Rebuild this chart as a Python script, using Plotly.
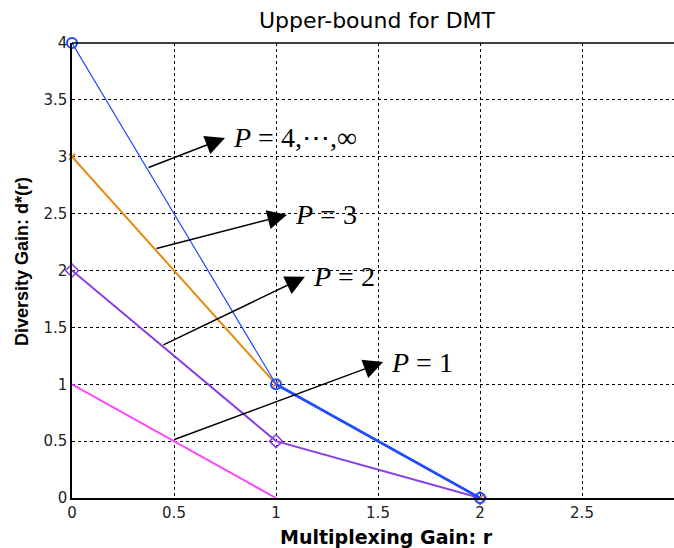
import plotly.graph_objects as go

# ---- data ----
r_vals = [0, 1, 2]
d_p4 = [4, 1, 0]          # P = 4, ..., inf
d_p3 = [3, 1, 0]          # P = 3
d_p2 = [2, 0.5, 0]        # P = 2
r_p1 = [0, 1]
d_p1 = [1, 0]             # P = 1
tail_r = [1, 2]
tail_d = [1, 0]

x_ticks = [0, 0.5, 1, 1.5, 2, 2.5]
y_ticks = [0, 0.5, 1, 1.5, 2, 2.5, 3, 3.5, 4]

# annotation arrows: (tail_x, tail_y, tip_x, tip_y, label)
arrows = [
    (0.368, 2.90, 0.75, 3.165, "<i>P</i> = 4,⋯,∞"),
    (0.407, 2.19, 1.054, 2.49, "<i>P</i> = 3"),
    (0.441, 1.34, 1.142, 1.945, "<i>P</i> = 2"),
    (0.495, 0.51, 1.525, 1.195, "<i>P</i> = 1"),
]

BLUE = "#1f4cff"
ORANGE = "#e58a12"
PURPLE = "#8a3fe2"
MAGENTA = "#ff45ff"

fig = go.Figure()
fig.add_trace(go.Scatter(x=r_p1, y=d_p1, mode="lines",
                         line=dict(color=MAGENTA, width=2), cliponaxis=False))
fig.add_trace(go.Scatter(x=r_vals, y=d_p2, mode="lines+markers",
                         line=dict(color=PURPLE, width=2),
                         marker=dict(symbol="diamond-open", size=10, color=PURPLE,
                                     line=dict(width=1.5, color=PURPLE)),
                         cliponaxis=False))
fig.add_trace(go.Scatter(x=r_vals, y=d_p3, mode="lines+markers",
                         line=dict(color=ORANGE, width=2),
                         marker=dict(symbol="x-thin-open", size=6, color=ORANGE,
                                     line=dict(width=2, color=ORANGE)),
                         cliponaxis=False))
fig.add_trace(go.Scatter(x=r_vals, y=d_p4, mode="lines+markers",
                         line=dict(color=BLUE, width=1.2),
                         marker=dict(symbol="circle-open", size=10, color=BLUE,
                                     line=dict(width=2, color=BLUE)),
                         cliponaxis=False))
fig.add_trace(go.Scatter(x=tail_r, y=tail_d, mode="lines",
                         line=dict(color=BLUE, width=2.6), cliponaxis=False))

annotations = []
for tx, ty, hx, hy, lab in arrows:
    annotations.append(dict(x=hx, y=hy, ax=tx, ay=ty, xref="x", yref="y",
                            axref="x", ayref="y", text="", showarrow=True,
                            arrowhead=2, arrowsize=2.6, arrowwidth=1.5,
                            arrowcolor="black", standoff=0, startstandoff=0,
                            font=dict(size=1)))
    annotations.append(dict(x=hx, y=hy, xref="x", yref="y", text=lab,
                            showarrow=False, xanchor="left", yanchor="middle",
                            xshift=6,
                            font=dict(family="Liberation Serif", size=28, color="black")))

# chart title and axis titles
annotations.append(dict(x=(377 - 72) / 602, y=1, xref="paper", yref="paper",
                        yshift=23, yanchor="middle", xanchor="center",
                        text="Upper-bound for DMT", showarrow=False,
                        font=dict(family="DejaVu Sans", size=22, color="black")))
annotations.append(dict(x=(386 - 72) / 602, y=0, xref="paper", yref="paper",
                        yshift=-39, yanchor="middle", xanchor="center",
                        text="<b>Multiplexing Gain: r</b>", showarrow=False,
                        font=dict(family="DejaVu Sans", size=19, color="black")))
annotations.append(dict(x=(22 - 72) / 602, y=(498 - 262) / 455, xref="paper", yref="paper",
                        yanchor="middle", xanchor="center", textangle=-90,
                        text="<b>Diversity Gain: d*(r)</b>", showarrow=False,
                        font=dict(family="Liberation Sans", size=18, color="black")))

fig.update_layout(
    width=674, height=548,
    margin=dict(l=72, r=0, t=43, b=50),
    plot_bgcolor="white", paper_bgcolor="white",
    showlegend=False,
    font=dict(family="DejaVu Sans", size=15, color="#222"),
    xaxis=dict(range=[0, 2.951], tickvals=x_ticks, ticktext=[f"{v:g}" for v in x_ticks],
               showgrid=True, gridcolor="black", gridwidth=1, griddash="3px,3px",
               zeroline=False, showline=True, linecolor="black", linewidth=1.5,
               ticks=""),
    yaxis=dict(range=[0, 4], tickvals=y_ticks, ticktext=[f"{v:g}" for v in y_ticks],
               showgrid=True, gridcolor="black", gridwidth=1, griddash="3px,3px",
               zeroline=False, showline=True, linecolor="black", linewidth=1.5,
               ticks=""),
    shapes=[dict(type="line", xref="paper", yref="paper", x0=0, x1=1, y0=1, y1=1,
                 line=dict(color="black", width=1.5))],
    annotations=annotations,
)

fig.write_html("out.html")
